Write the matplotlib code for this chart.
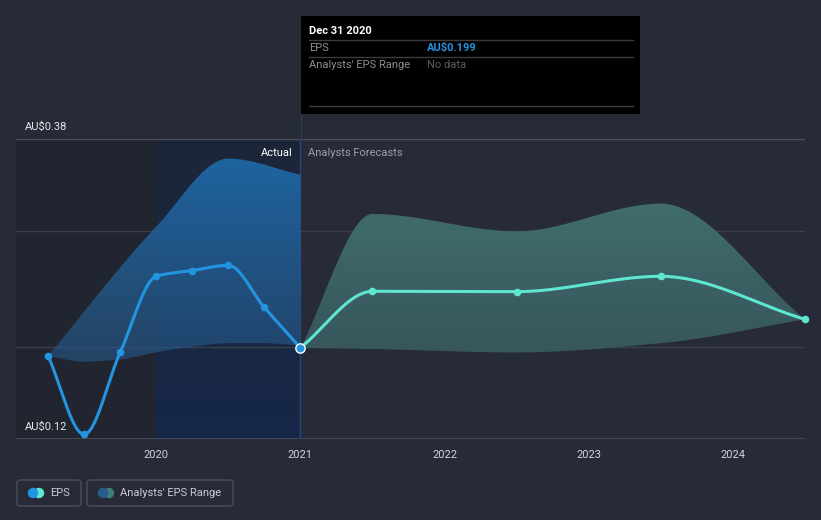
import numpy as np
import matplotlib
matplotlib.use("Agg")
import matplotlib.pyplot as plt
from matplotlib.patches import Rectangle, FancyBboxPatch, Circle, Polygon
from matplotlib.colors import LinearSegmentedColormap

plt.rcParams['font.family'] = ['Roboto', 'DejaVu Sans']

# --- data ---
eps_years = [2019.25, 2019.5, 2019.75, 2020.0, 2020.25, 2020.5, 2020.75, 2021.0]
eps_values = [0.192, 0.124, 0.195, 0.261, 0.266, 0.2705, 0.234, 0.199]

range_high_years = [2019.25, 2020.0, 2020.5, 2021.0]
range_high = [0.192, 0.304, 0.363, 0.349]
range_low_years = [2019.25, 2019.5, 2019.75, 2020.0, 2020.25, 2020.5, 2020.75, 2021.0]
range_low = [0.192, 0.187, 0.189, 0.195, 0.200, 0.203, 0.203, 0.201]

fc_years = [2021.0, 2021.5, 2022.5, 2023.5, 2024.5]
fc_values = [0.199, 0.248, 0.2477, 0.261, 0.2237]
fc_high = [0.199, 0.315, 0.300, 0.324, 0.2237]
fc_low = [0.199, 0.198, 0.195, 0.203, 0.2237]

x_ticks = [2020, 2021, 2022, 2023, 2024]
y_min, y_max = 0.12, 0.38

BG = '#262b37'
BLUE = '#2394df'
TEAL = '#5ee6d0'


def monotone(x, y, grid=None, n=300):
    """monotone cubic (Fritsch-Carlson) for drawing smooth curves"""
    x = np.asarray(x, float)
    y = np.asarray(y, float)
    h = np.diff(x)
    d = np.diff(y) / h
    m = np.zeros_like(y)
    m[0], m[-1] = d[0], d[-1]
    for k in range(1, len(x) - 1):
        if d[k - 1] * d[k] <= 0:
            m[k] = 0
        else:
            w1 = 2 * h[k] + h[k - 1]
            w2 = h[k] + 2 * h[k - 1]
            m[k] = (w1 + w2) / (w1 / d[k - 1] + w2 / d[k])
    xs = np.linspace(x[0], x[-1], n) if grid is None else grid
    idx = np.clip(np.searchsorted(x, xs) - 1, 0, len(x) - 2)
    t = (xs - x[idx]) / h[idx]
    h00 = 2 * t**3 - 3 * t**2 + 1
    h10 = t**3 - 2 * t**2 + t
    h01 = -2 * t**3 + 3 * t**2
    h11 = t**3 - t**2
    ys = h00 * y[idx] + h10 * h[idx] * m[idx] + h01 * y[idx + 1] + h11 * h[idx] * m[idx + 1]
    return xs, ys


def gradient_fill(ax, xs, lo, hi, top, bottom, z):
    verts = np.vstack([np.column_stack([xs, hi]), np.column_stack([xs[::-1], lo[::-1]])])
    poly = Polygon(verts, closed=True, facecolor='none', edgecolor='none')
    ax.add_patch(poly)
    cmap = LinearSegmentedColormap.from_list('g', [bottom, top])
    grad = np.linspace(0, 1, 256).reshape(-1, 1)
    im = ax.imshow(grad, cmap=cmap, aspect='auto', origin='lower',
                   extent=[xs.min(), xs.max(), min(lo.min(), y_min), hi.max()], zorder=z)
    im.set_clip_path(poly)


fig = plt.figure(figsize=(8.21, 5.20), dpi=100)
fig.patch.set_facecolor(BG)

x_left = 2020 - (156.7 - 16) / 144.7
x_right = 2024.5
ax = fig.add_axes([16 / 821, 81 / 520, 789 / 821, 300 / 520])
ax.set_facecolor(BG)
ax.set_xlim(x_left, x_right)
ax.set_ylim(y_min, y_max)

# past area shading
ax.axvspan(x_left, 2020, color='#21252f', zorder=0, lw=0)
grad = np.linspace(0, 1, 256).reshape(-1, 1)
hl_cmap = LinearSegmentedColormap.from_list('hl', ['#162848', '#1d2538'])
ax.imshow(grad, cmap=hl_cmap, aspect='auto', origin='lower',
          extent=[2020, 2021, y_min, y_max], zorder=0)

# grid
for v in [0.2, 0.3]:
    ax.axhline(v, color='#3a3f4b', lw=1, zorder=1)
ax.axhline(y_max, color='#4a4f5a', lw=1, zorder=1)
ax.axhline(y_min, color='#4a4f5a', lw=1.2, zorder=1)
ax.axvline(2021, color='#24467a', lw=1, zorder=2)

# analyst ranges
xs, hi = monotone(range_high_years, range_high)
_, lo = monotone(range_low_years, range_low, grid=xs)
gradient_fill(ax, xs, lo, hi, (0.12, 0.42, 0.67, 0.92), (0.16, 0.30, 0.45, 0.55), 2)

xs, hi = monotone(fc_years, fc_high)
_, lo = monotone(fc_years, fc_low)
gradient_fill(ax, xs, lo, hi, (0.26, 0.44, 0.44, 0.95), (0.20, 0.31, 0.34, 0.9), 2)

# EPS lines
xs, ys = monotone(eps_years, eps_values)
ax.plot(xs, ys, color=BLUE, lw=2.2, zorder=4, solid_capstyle='round')
ax.scatter(eps_years[:-1], eps_values[:-1], s=30, color=BLUE, zorder=5, lw=0)

xs, ys = monotone(fc_years, fc_values)
ax.plot(xs, ys, color=TEAL, lw=2.2, zorder=4, solid_capstyle='round')
ax.scatter(fc_years[1:], fc_values[1:], s=30, color=TEAL, zorder=5, lw=0, clip_on=False)
ax.scatter([eps_years[-1]], [eps_values[-1]], s=45, color=BLUE, edgecolor='white',
           lw=1, zorder=6, clip_on=False)

for s in ax.spines.values():
    s.set_visible(False)
ax.set_xticks(x_ticks)
ax.set_xticklabels([str(t) for t in x_ticks])
ax.tick_params(axis='x', length=0, colors='#d0d3d9', labelsize=8, pad=8)
ax.set_yticks([])

ax.text(2021 - 0.055, 0.368, 'Actual', color='white', fontsize=8, ha='right', va='center', zorder=7)
ax.text(2021 + 0.055, 0.368, 'Analysts Forecasts', color='#9aa0aa', fontsize=8,
        ha='left', va='center', zorder=7)

# overlay in pixel coordinates
ov = fig.add_axes([0, 0, 1, 1], zorder=10)
ov.set_xlim(0, 821)
ov.set_ylim(520, 0)
ov.axis('off')
ov.patch.set_alpha(0)

ov.plot([301, 301], [114, 139], color='#2b3c5a', lw=1)
ov.text(25, 127, 'AU$0.38', color='#e6e8ec', fontsize=8, va='center')
ov.text(25, 427, 'AU$0.12', color='#e6e8ec', fontsize=8, va='center')

# tooltip
ov.add_patch(Rectangle((301, 16), 339, 98, facecolor='black', edgecolor='none'))
ov.text(309, 31, 'Dec 31 2020', color='white', fontsize=8, fontweight='bold', va='center')
for yl in [40, 57, 106]:
    ov.plot([309, 633], [yl, yl], color='#3c3c3c', lw=1)
ov.text(309, 48, 'EPS', color='#8e8e8e', fontsize=8, va='center')
ov.text(427, 48, 'AU$0.199', color=BLUE, fontsize=8, fontweight='bold', va='center')
ov.text(309, 65, "Analysts' EPS Range", color='#8e8e8e', fontsize=8, va='center')
ov.text(427, 65, 'No data', color='#5e5e5e', fontsize=8, va='center')

# legend
ov.add_patch(FancyBboxPatch((17, 480), 64, 26, boxstyle='round,pad=0,rounding_size=3',
                            facecolor='none', edgecolor='#4a4f5a', lw=1))
ov.add_patch(FancyBboxPatch((87, 480), 146, 26, boxstyle='round,pad=0,rounding_size=3',
                            facecolor='none', edgecolor='#4a4f5a', lw=1))
ov.add_patch(Circle((39, 493), 4.5, color=TEAL))
ov.add_patch(Circle((33, 493), 4.5, color=BLUE))
ov.add_patch(Circle((109, 493), 4.5, color='#3d7d7a'))
ov.add_patch(Circle((103, 493), 4.5, color='#275d8a'))
ov.text(50, 493, 'EPS', color='#c8ccd2', fontsize=8, va='center')
ov.text(120, 493, "Analysts' EPS Range", color='#c8ccd2', fontsize=8, va='center')

fig.savefig('out.png', dpi=100, facecolor=BG)
